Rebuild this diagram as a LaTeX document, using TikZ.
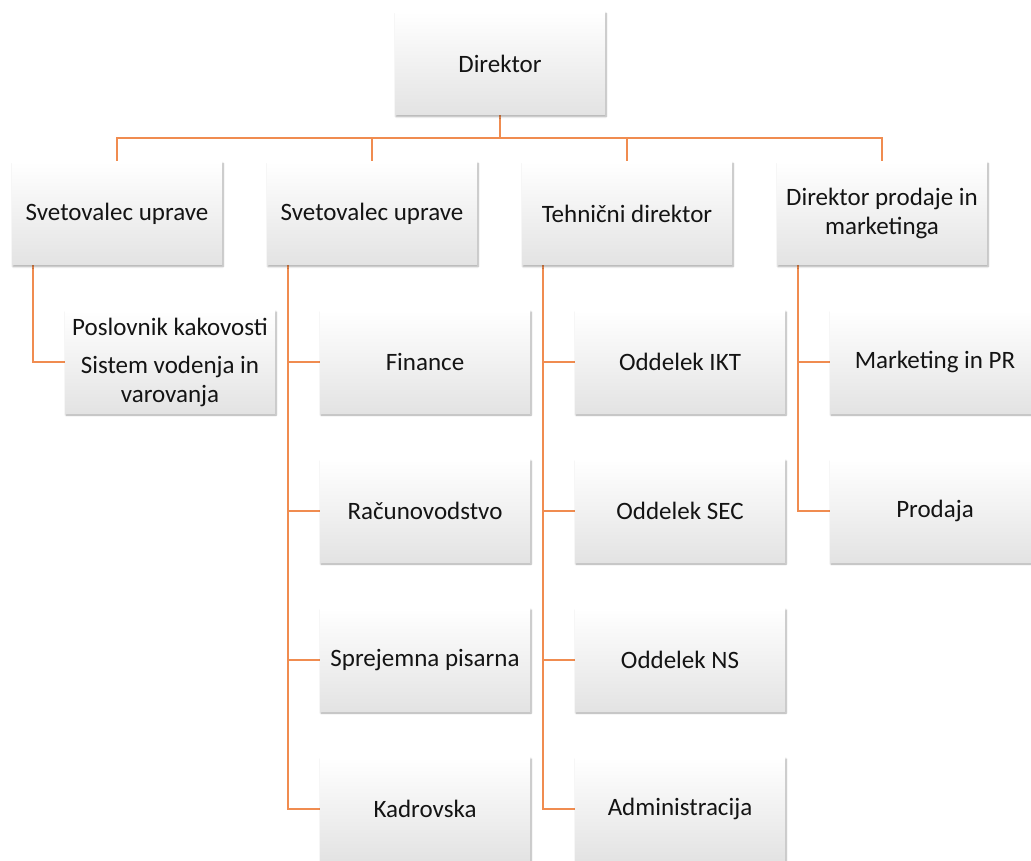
\documentclass[tikz,border=0pt]{standalone}
\usepackage{fontspec}
\setmainfont{Carlito}
\usetikzlibrary{shadows.blur,backgrounds}
\definecolor{linkorange}{RGB}{240,140,80}
\definecolor{boxtext}{RGB}{20,20,20}
\tikzset{
  unitbox/.style={minimum width=210pt, minimum height=103pt, inner sep=0pt,
    align=center, top color=white, middle color=white!98!black,
    bottom color=black!11, text=boxtext,
    font=\fontsize{25}{29}\selectfont,
    blur shadow={shadow xshift=1pt, shadow yshift=-1.5pt,
      shadow blur steps=6, shadow opacity=35}},
  link/.style={draw=linkorange, line width=1.2pt}
}
\begin{document}
\begin{tikzpicture}[x=1pt, y=-1pt]
\useasboundingbox (0,0) rectangle (1031,861);
\clip (0,0) rectangle (1031,861);

% top level
\node[unitbox] (dir) at (500,63.5) {Direktor};

% second level
\node[unitbox] (s1) at (117,213.5) {Svetovalec uprave};
\node[unitbox] (s2) at (372,213.5) {Svetovalec uprave};
\node[unitbox] (s3) at (627,213.5) {Tehnični direktor};
\node[unitbox] (s4) at (882,213.5) {Direktor prodaje in\\marketinga};

% departments
\node[unitbox] (c11) at (170,362) {Poslovnik kakovosti\\[9pt]Sistem vodenja in\\varovanja};

\node[unitbox] (c21) at (425,362) {Finance};
\node[unitbox] (c22) at (425,511) {Računovodstvo};
\node[unitbox] (c23) at (425,660) {Sprejemna pisarna};
\node[unitbox] (c24) at (425,809) {Kadrovska};

\node[unitbox] (c31) at (680,362) {Oddelek IKT};
\node[unitbox] (c32) at (680,511) {Oddelek SEC};
\node[unitbox] (c33) at (680,660) {Oddelek NS};
\node[unitbox] (c34) at (680,809) {Administracija};

\node[unitbox] (c41) at (935,362) {Marketing in PR};
\node[unitbox] (c42) at (935,511) {Prodaja};

\begin{pgfonlayer}{background}
  \coordinate (bus) at (500,138);
  \draw[link] (dir.south) -- (bus);
  \foreach \s in {s1,s2,s3,s4}
    \draw[link] (bus) -| (\s.north);
  \draw[link] ([xshift=-84pt]s1.south) |- (c11.west);
  \foreach \c in {c21,c22,c23,c24}
    \draw[link] ([xshift=-84pt]s2.south) |- (\c.west);
  \foreach \c in {c31,c32,c33,c34}
    \draw[link] ([xshift=-84pt]s3.south) |- (\c.west);
  \foreach \c in {c41,c42}
    \draw[link] ([xshift=-84pt]s4.south) |- (\c.west);
\end{pgfonlayer}
\end{tikzpicture}
\end{document}
